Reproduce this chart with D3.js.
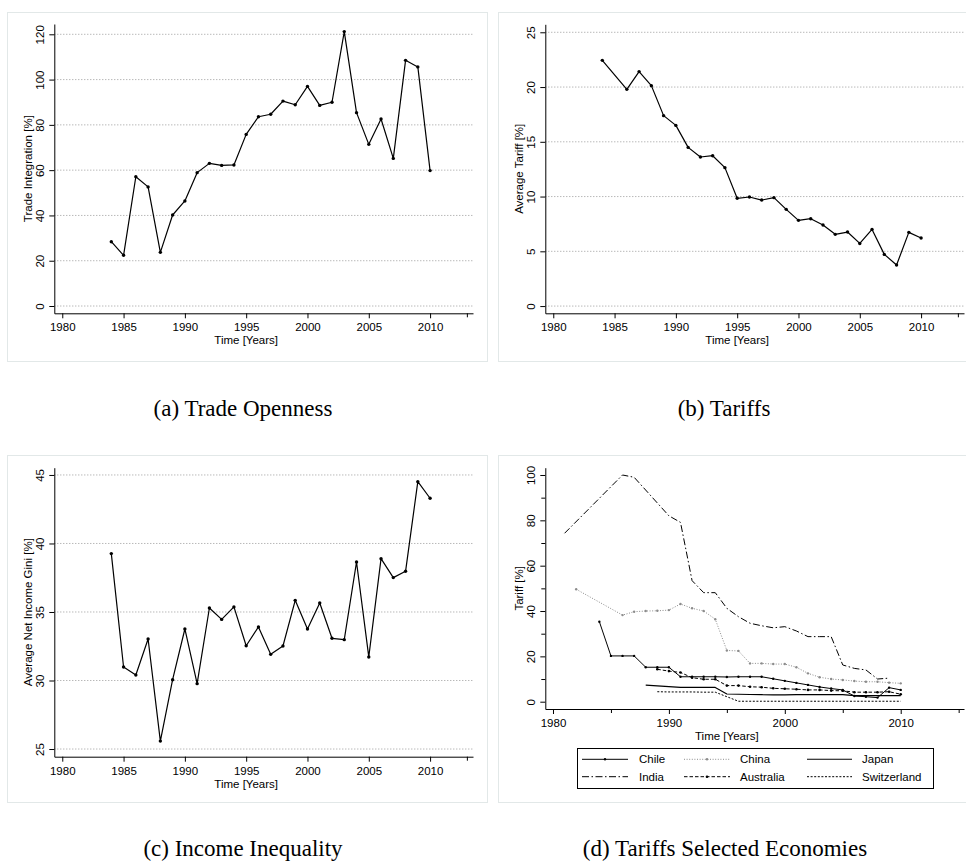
<!DOCTYPE html>
<html><head><meta charset="utf-8">
<script src="https://cdn.jsdelivr.net/npm/d3@7"></script>
<style>
body{margin:0;background:#fff}
text{font-family:"Liberation Sans",Arial,Helvetica,sans-serif}
</style>
</head><body><svg id="c" width="966" height="866"></svg>
<script>
// ---------- DATA ----------
const yearsOpen = [1984,1985,1986,1987,1988,1989,1990,1991,1992,1993,1994,1995,1996,1997,1998,1999,2000,2001,2002,2003,2004,2005,2006,2007,2008,2009,2010];
const tradeIntegration = [28.4,22.4,57.1,52.6,23.7,40.2,46.4,58.9,63.0,62.1,62.3,75.8,83.6,84.7,90.5,88.9,97.0,88.6,90.0,121.2,85.4,71.4,82.6,65.2,108.5,105.6,59.8];

const yearsTariff = [1984,1986,1987,1988,1989,1990,1991,1992,1993,1994,1995,1996,1997,1998,1999,2000,2001,2002,2003,2004,2005,2006,2007,2008,2009,2010];
const averageTariff = [22.44,19.79,21.41,20.13,17.39,16.50,14.49,13.61,13.73,12.64,9.84,9.96,9.68,9.90,8.83,7.83,7.98,7.40,6.55,6.76,5.72,7.00,4.72,3.75,6.73,6.21];

const yearsGini = [1984,1985,1986,1987,1988,1989,1990,1991,1992,1993,1994,1995,1996,1997,1998,1999,2000,2001,2002,2003,2004,2005,2006,2007,2008,2009,2010];
const netIncomeGini = [39.26,30.99,30.40,33.03,25.58,30.06,33.76,29.77,35.29,34.46,35.37,32.54,33.91,31.91,32.52,35.85,33.76,35.66,33.08,32.98,38.65,31.72,38.89,37.51,37.97,44.51,43.30];

const chileYears = [1984,1985,1986,1987,1988,1989,1990,1991,1992,1993,1994,1995,1996,1997,1998,1999,2000,2001,2002,2003,2004,2005,2006,2007,2008,2009,2010];
const chileTariff = [35.3,20.2,20.2,20.2,15.2,15.2,15.2,11.0,11.0,11.0,11.0,10.9,11.0,11.0,11.0,10.1,9.2,8.3,7.4,6.5,5.8,5.2,2.5,2.2,1.8,6.2,5.2];
const chinaYears = [1982,1986,1987,1988,1989,1990,1991,1992,1993,1994,1995,1996,1997,1998,1999,2000,2001,2002,2003,2004,2005,2006,2007,2008,2009,2010];
const chinaTariff = [49.6,38.2,39.7,40.0,40.1,40.4,43.1,41.2,40.0,36.4,22.6,22.4,16.9,16.9,16.6,16.6,15.2,12.5,10.8,10.0,9.6,9.1,8.8,8.8,8.4,8.1];
const japanYears = [1988,1991,1992,1993,1994,1995,1996,1997,1998,1999,2000,2001,2002,2003,2004,2005,2006,2007,2008,2009,2010];
const japanTariff = [7.3,6.3,6.3,6.3,6.3,3.4,3.3,3.2,3.1,3.0,3.0,3.1,3.1,3.1,3.1,3.1,2.7,2.7,2.7,2.7,2.7];
const indiaYears = [1981,1986,1987,1990,1991,1992,1993,1994,1995,1996,1997,1998,1999,2000,2001,2002,2003,2004,2005,2006,2007,2008,2009];
const indiaTariff = [74.3,100.0,99.0,82.0,79.1,53.4,48.1,48.1,41.2,37.5,34.6,33.5,32.6,33.1,31.2,28.7,28.7,28.7,16.2,14.7,14.0,10.0,10.4];
const australiaYears = [1989,1990,1991,1992,1993,1994,1995,1996,1997,1998,1999,2000,2001,2002,2003,2004,2005,2006,2007,2008,2009,2010];
const australiaTariff = [14.3,13.5,12.9,10.6,9.9,9.9,7.1,7.1,6.6,6.4,5.9,5.7,5.5,5.2,5.2,4.9,4.8,4.2,4.2,4.2,4.4,3.3];
const switzerlandYears = [1989,1990,1991,1992,1993,1994,1996,1997,1998,1999,2000,2001,2002,2003,2004,2005,2006,2007,2008,2009,2010];
const switzerlandTariff = [4.4,4.3,4.3,4.3,4.2,4.2,0.2,0.2,0.2,0.2,0.2,0.2,0.2,0.2,0.2,0.2,0.2,0.2,0.2,0.2,0.2];

const xTickYears = [1980,1985,1990,1995,2000,2005,2010];
const xTickYearsD = [1980,1990,2000,2010];
const xMinorD = [1985,1995,2005,2015];
const yTicksOpen = [0,20,40,60,80,100,120];
const yTicksTariff = [0,5,10,15,20,25];
const yTicksGini = [25,30,35,40,45];
const yTicksD = [0,20,40,60,80,100];
const yMinorD = [10,30,50,70,90];

const legendLabels = ["Chile","China","Japan","India","Australia","Switzerland"];
const captions = ["(a) Trade Openness","(b) Tariffs","(c) Income Inequality","(d) Tariffs Selected Economies"];

// ---------- DRAW ----------
const svg = d3.select('#c');
const FS = 11.5;

function panel(cfg){
  const g = svg.append('g');
  g.append('rect').attr('x',cfg.box[0]+0.5).attr('y',cfg.box[1]+0.5)
    .attr('width',cfg.box[2]).attr('height',cfg.box[3])
    .attr('fill','none').attr('stroke','#e2e8e8').attr('stroke-width',1);
  const x = d3.scaleLinear().domain(cfg.xDomain).range(cfg.xRange);
  const y = d3.scaleLinear().domain(cfg.yDomain).range(cfg.yRange);
  const [x0,x1] = cfg.xRange;
  const [yb,yt] = cfg.yRange;
  if(cfg.grid){
    g.append('g').selectAll('line').data(cfg.yTicks).join('line')
      .attr('x1',x0).attr('x2',x1).attr('y1',d=>y(d)).attr('y2',d=>y(d))
      .attr('stroke','#8f8f8f').attr('stroke-width',0.9).attr('stroke-dasharray','1,2');
  }
  const ya = g.append('g').attr('transform',`translate(${x0},0)`)
    .call(d3.axisLeft(y).tickValues(cfg.yTicks).tickSize(5).tickSizeOuter(0).tickFormat(d3.format('d')));
  ya.attr('font-size',FS).attr('font-family',null);
  ya.selectAll('text').attr('x',0).attr('dy',null).attr('text-anchor','middle')
    .attr('transform','translate(-10,0) rotate(-90)');
  if(cfg.yMinor){
    g.append('g').attr('transform',`translate(${x0},0)`)
      .call(d3.axisLeft(y).tickValues(cfg.yMinor).tickSize(4).tickFormat(''))
      .call(s=>s.select('.domain').remove());
  }
  const xa = g.append('g').attr('transform',`translate(0,${yb})`)
    .call(d3.axisBottom(x).tickValues(cfg.xTicks).tickSize(5).tickSizeOuter(0).tickFormat(d3.format('d')));
  xa.attr('font-size',FS).attr('font-family',null);
  xa.selectAll('text').attr('y',18).attr('dy',null);
  g.append('g').attr('transform',`translate(0,${yb})`)
    .call(d3.axisBottom(x).tickValues(cfg.xMinor).tickSize(4).tickFormat(''))
    .call(s=>s.select('.domain').remove());
  g.append('text').attr('x',x(1995)).attr('y',yb+31)
    .attr('text-anchor','middle').attr('font-size',FS).text('Time [Years]');
  g.append('text').attr('transform',`translate(${x0-22},${(yb+yt)/2}) rotate(-90)`)
    .attr('text-anchor','middle').attr('font-size',FS).text(cfg.yTitle);
  return {g,x,y};
}

function series(p, xs, ys, st){
  const pts = d3.zip(xs, ys);
  const line = d3.line().x(d=>p.x(d[0])).y(d=>p.y(d[1]));
  p.g.append('path').datum(pts).attr('d',line).attr('fill','none')
    .attr('stroke',st.color||'#000').attr('stroke-width',st.width||1.1)
    .attr('stroke-dasharray',st.dash||null).attr('stroke-linejoin','round');
  if(st.marker){
    p.g.append('g').selectAll('circle').data(pts).join('circle')
      .attr('cx',d=>p.x(d[0])).attr('cy',d=>p.y(d[1])).attr('r',st.r||1.7)
      .attr('fill',st.color||'#000');
  }
}

const commonX = [1979.35, 2013.5];

const pa = panel({box:[7,12,480,349], xDomain:commonX, xRange:[54.3,473], yDomain:[-3.22,124.55], yRange:[313.3,24],
  xTicks:xTickYears, xMinor:[2013], yTicks:yTicksOpen, grid:true, yTitle:'Trade Integration [%]'});
series(pa, yearsOpen, tradeIntegration, {marker:true, width:1.2});

const pb = panel({box:[498,12,480,349], xDomain:commonX, xRange:[545.3,964], yDomain:[-0.66,25.73], yRange:[313.3,24.3],
  xTicks:xTickYears, xMinor:[2013], yTicks:yTicksTariff, grid:true, yTitle:'Average Tariff [%]'});
series(pb, yearsTariff, averageTariff, {marker:true, width:1.2});

const pc = panel({box:[7,455,480,347], xDomain:commonX, xRange:[54.3,473], yDomain:[24.44,45.53], yRange:[756.7,467.7],
  xTicks:xTickYears, xMinor:[2013], yTicks:yTicksGini, grid:true, yTitle:'Average Net Income Gini [%]'});
series(pc, yearsGini, netIncomeGini, {marker:true, width:1.2});

const pd = panel({box:[498,455,480,347], xDomain:[1979.336,2015.46], xRange:[545.3,964], yDomain:[-3.22,103.22], yRange:[709,467.7],
  xTicks:xTickYearsD, xMinor:xMinorD, yTicks:yTicksD, yMinor:yMinorD, grid:false, yTitle:'Tariff [%]'});
const styles = [
  {color:'#000', width:1, marker:true, r:1.2},
  {color:'#8c8c8c', width:1, dash:'1,1.6', marker:true, r:1.2},
  {color:'#000', width:1.1},
  {color:'#000', width:1, dash:'7,2.5,1.5,2.5'},
  {color:'#000', width:1, dash:'3.5,2', marker:true, r:1.3},
  {color:'#000', width:1, dash:'2,1.6'}
];
series(pd, indiaYears, indiaTariff, styles[3]);
series(pd, chinaYears, chinaTariff, styles[1]);
series(pd, switzerlandYears, switzerlandTariff, styles[5]);
series(pd, japanYears, japanTariff, styles[2]);
series(pd, australiaYears, australiaTariff, styles[4]);
series(pd, chileYears, chileTariff, styles[0]);

const lg = svg.append('g');
lg.append('rect').attr('x',577.5).attr('y',748.5).attr('width',356).attr('height',40)
  .attr('fill','#fff').attr('stroke','#000').attr('stroke-width',1);
const colLine = [[582,628],[684,730],[807,852]];
const colText = [639,740,862];
const rowY = [759.3,776.7];
legendLabels.forEach((lab,i)=>{
  const c = i%3, r = Math.floor(i/3);
  const st = styles[i];
  lg.append('line').attr('x1',colLine[c][0]).attr('x2',colLine[c][1]).attr('y1',rowY[r]).attr('y2',rowY[r])
    .attr('stroke',st.color).attr('stroke-width',st.width).attr('stroke-dasharray',st.dash||null);
  if(st.marker) lg.append('circle').attr('cx',(colLine[c][0]+colLine[c][1])/2).attr('cy',rowY[r]).attr('r',st.r).attr('fill',st.color);
  lg.append('text').attr('x',colText[c]).attr('y',rowY[r]+4).attr('font-size',FS).text(lab);
});

const capPos = [[243,408],[724,408],[243,848],[725,848]];
captions.forEach((t,i)=>{
  svg.append('text').attr('x',capPos[i][0]).attr('y',capPos[i][1]).attr('text-anchor','middle')
    .attr('dominant-baseline','central')
    .style('font-family','"Liberation Serif","Times New Roman",serif').style('font-size','23px').text(t);
});
</script>
</body></html>
